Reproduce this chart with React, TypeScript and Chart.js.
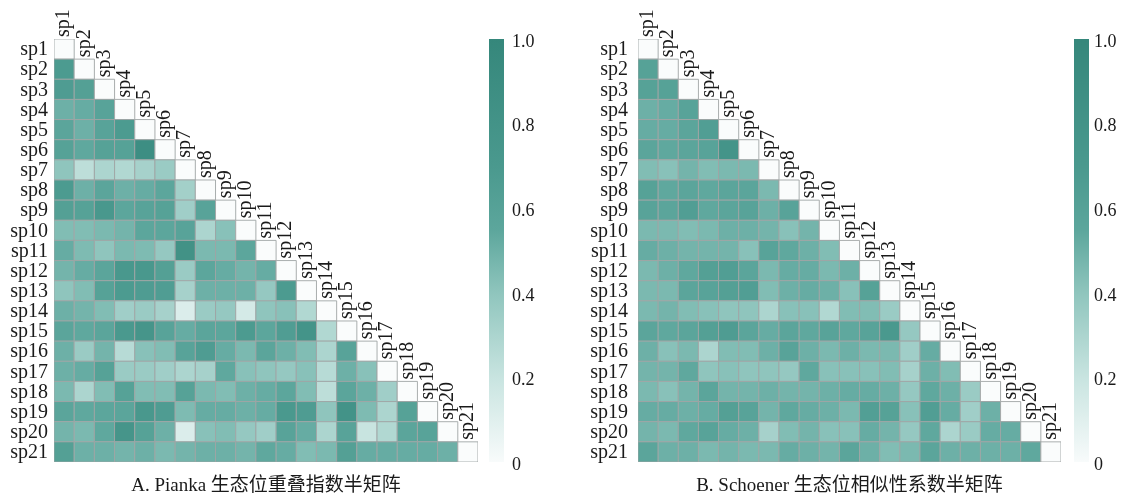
import React, { useEffect, useRef } from 'react';
import { Chart, registerables } from 'chart.js';

Chart.register(...registerables);

const SPECIES = ['sp1', 'sp2', 'sp3', 'sp4', 'sp5', 'sp6', 'sp7', 'sp8', 'sp9', 'sp10', 'sp11', 'sp12', 'sp13', 'sp14', 'sp15', 'sp16', 'sp17', 'sp18', 'sp19', 'sp20', 'sp21'];
const CB_TICKS = [0, 0.2, 0.4, 0.6, 0.8, 1.0];

// Lower-triangular rows, starting with sp2 (values for sp1..sp(i-1))
const PIANKA: number[][] = [
  [0.68],
  [0.66, 0.62],
  [0.50, 0.52, 0.58],
  [0.56, 0.50, 0.58, 0.68],
  [0.60, 0.54, 0.60, 0.60, 0.88],
  [0.40, 0.24, 0.30, 0.28, 0.32, 0.36],
  [0.68, 0.50, 0.56, 0.50, 0.52, 0.55, 0.33],
  [0.62, 0.60, 0.72, 0.55, 0.58, 0.60, 0.34, 0.58],
  [0.44, 0.44, 0.46, 0.48, 0.55, 0.55, 0.58, 0.30, 0.42],
  [0.52, 0.45, 0.40, 0.46, 0.45, 0.38, 0.82, 0.46, 0.46, 0.55],
  [0.48, 0.52, 0.56, 0.72, 0.72, 0.62, 0.36, 0.55, 0.52, 0.48, 0.52],
  [0.40, 0.44, 0.60, 0.68, 0.66, 0.65, 0.32, 0.50, 0.50, 0.50, 0.38, 0.68],
  [0.50, 0.48, 0.44, 0.34, 0.36, 0.32, 0.12, 0.36, 0.38, 0.15, 0.40, 0.42, 0.28],
  [0.56, 0.54, 0.56, 0.70, 0.76, 0.58, 0.52, 0.56, 0.55, 0.68, 0.55, 0.65, 0.78, 0.28],
  [0.50, 0.36, 0.48, 0.26, 0.42, 0.44, 0.58, 0.66, 0.52, 0.46, 0.56, 0.50, 0.44, 0.30, 0.58],
  [0.50, 0.52, 0.60, 0.36, 0.36, 0.34, 0.30, 0.32, 0.54, 0.42, 0.40, 0.38, 0.42, 0.26, 0.50, 0.42],
  [0.46, 0.30, 0.44, 0.60, 0.44, 0.44, 0.60, 0.46, 0.44, 0.50, 0.52, 0.55, 0.44, 0.24, 0.56, 0.50, 0.34],
  [0.56, 0.54, 0.55, 0.56, 0.72, 0.66, 0.45, 0.52, 0.52, 0.50, 0.52, 0.70, 0.66, 0.40, 0.80, 0.45, 0.30, 0.60],
  [0.48, 0.46, 0.54, 0.76, 0.60, 0.50, 0.12, 0.42, 0.44, 0.38, 0.34, 0.58, 0.52, 0.30, 0.58, 0.20, 0.28, 0.56, 0.58],
  [0.62, 0.50, 0.50, 0.48, 0.50, 0.46, 0.48, 0.50, 0.50, 0.48, 0.54, 0.52, 0.44, 0.46, 0.62, 0.52, 0.52, 0.52, 0.52, 0.50],
];

const SCHOENER: number[][] = [
  [0.60],
  [0.60, 0.60],
  [0.50, 0.52, 0.58],
  [0.52, 0.52, 0.56, 0.64],
  [0.56, 0.54, 0.56, 0.58, 0.78],
  [0.44, 0.42, 0.48, 0.44, 0.46, 0.46],
  [0.60, 0.54, 0.56, 0.54, 0.56, 0.56, 0.46],
  [0.58, 0.56, 0.64, 0.54, 0.56, 0.58, 0.50, 0.58],
  [0.46, 0.46, 0.44, 0.46, 0.50, 0.50, 0.48, 0.42, 0.48],
  [0.52, 0.50, 0.48, 0.48, 0.48, 0.42, 0.58, 0.54, 0.50, 0.44],
  [0.46, 0.50, 0.54, 0.62, 0.64, 0.56, 0.46, 0.52, 0.52, 0.46, 0.50],
  [0.46, 0.46, 0.56, 0.58, 0.62, 0.64, 0.44, 0.50, 0.52, 0.50, 0.42, 0.60],
  [0.46, 0.48, 0.44, 0.42, 0.40, 0.40, 0.30, 0.42, 0.42, 0.28, 0.44, 0.44, 0.36],
  [0.56, 0.54, 0.56, 0.62, 0.66, 0.56, 0.52, 0.56, 0.54, 0.58, 0.54, 0.58, 0.70, 0.38],
  [0.50, 0.42, 0.46, 0.30, 0.44, 0.44, 0.50, 0.58, 0.50, 0.46, 0.50, 0.46, 0.46, 0.34, 0.52],
  [0.48, 0.48, 0.54, 0.40, 0.42, 0.40, 0.40, 0.38, 0.54, 0.42, 0.42, 0.42, 0.44, 0.32, 0.50, 0.44],
  [0.46, 0.42, 0.48, 0.56, 0.48, 0.48, 0.50, 0.48, 0.48, 0.50, 0.52, 0.52, 0.50, 0.38, 0.54, 0.50, 0.36],
  [0.52, 0.52, 0.50, 0.52, 0.62, 0.58, 0.48, 0.54, 0.52, 0.50, 0.46, 0.63, 0.60, 0.42, 0.64, 0.52, 0.34, 0.50],
  [0.48, 0.46, 0.54, 0.58, 0.52, 0.50, 0.32, 0.44, 0.48, 0.42, 0.42, 0.52, 0.48, 0.38, 0.54, 0.30, 0.36, 0.52, 0.52],
  [0.56, 0.50, 0.50, 0.46, 0.48, 0.46, 0.46, 0.52, 0.50, 0.48, 0.56, 0.50, 0.44, 0.46, 0.56, 0.50, 0.50, 0.50, 0.50, 0.54],
];

const TITLE_A = 'A. Pianka 生态位重叠指数半矩阵';
const TITLE_B = 'B. Schoener 生态位相似性系数半矩阵';

// colormap stops (value, rgb)
const CMAP: [number, [number, number, number]][] = [
  [0.0, [248, 251, 251]],
  [0.2, [200, 228, 224]],
  [0.4, [143, 197, 189]],
  [0.55, [92, 166, 156]],
  [0.7, [74, 153, 142]],
  [1.0, [53, 135, 123]],
];

function cmap(v: number | null): string {
  if (v === null) return 'rgb(250,252,252)';
  const t = Math.max(0, Math.min(1, v));
  for (let i = 0; i < CMAP.length - 1; i++) {
    const [a, ca] = CMAP[i];
    const [b, cb] = CMAP[i + 1];
    if (t <= b) {
      const f = (t - a) / (b - a);
      const c = ca.map((x, k) => Math.round(x + (cb[k] - x) * f));
      return `rgb(${c[0]},${c[1]},${c[2]})`;
    }
  }
  const c = CMAP[CMAP.length - 1][1];
  return `rgb(${c[0]},${c[1]},${c[2]})`;
}

const SERIF = '"Liberation Serif", "Times New Roman", "Noto Sans CJK SC", serif';

type Layout = { yWidth: number; yPad: number; cbWidth: number; cbBarOffset: number; cbPad: number };

function buildConfig(rows: number[][], title: string, lay: Layout): any {
  const points: { x: number; y: number; v: number | null }[] = [];
  for (let i = 0; i < SPECIES.length; i++) {
    for (let j = 0; j <= i; j++) {
      points.push({ x: j + 1, y: i + 1, v: i === j ? null : rows[i - 1][j] });
    }
  }
  const radius = (ctx: any) => {
    const s = ctx.chart.scales.x;
    if (!s) return 14;
    const side = Math.abs(s.getPixelForValue(2) - s.getPixelForValue(1));
    return isFinite(side) && side > 0 ? side / Math.SQRT2 : 14;
  };
  const noPad = (s: any, w: number) => {
    s.width = w;
    s.paddingTop = 0;
    s.paddingBottom = 0;
  };
  const decor = {
    id: 'decor',
    afterDatasetsDraw(chart: any) {
      const { ctx, scales } = chart;
      const x = scales.x, y = scales.y, cb = scales.cb;
      // colorbar
      const top = cb.getPixelForValue(1);
      const bottom = cb.getPixelForValue(0);
      const grad = ctx.createLinearGradient(0, bottom, 0, top);
      CMAP.forEach(([v]) => grad.addColorStop(v, cmap(v)));
      ctx.save();
      ctx.fillStyle = grad;
      ctx.fillRect(cb.left + lay.cbBarOffset, top, 15, bottom - top);
      // column labels
      ctx.fillStyle = '#1a1a1a';
      ctx.font = `20px ${SERIF}`;
      ctx.textAlign = 'left';
      ctx.textBaseline = 'middle';
      SPECIES.forEach((lab, j) => {
        const cx = x.getPixelForValue(j + 1);
        const ty = y.getPixelForValue(j + 0.5);
        ctx.save();
        ctx.translate(cx, ty - 2);
        ctx.rotate(-Math.PI / 2);
        ctx.fillText(lab, 0, 0);
        ctx.restore();
      });
      // title
      ctx.font = `19px ${SERIF}`;
      ctx.textAlign = 'center';
      ctx.textBaseline = 'middle';
      ctx.fillText(title, (chart.chartArea.left + chart.chartArea.right) / 2, 486);
      ctx.restore();
    },
  };
  return {
    type: 'scatter',
    data: {
      datasets: [
        {
          data: points,
          pointStyle: 'rect',
          pointRadius: radius,
          pointHoverRadius: radius,
          pointBackgroundColor: (ctx: any) => cmap(ctx.raw ? ctx.raw.v : null),
          pointHoverBackgroundColor: (ctx: any) => cmap(ctx.raw ? ctx.raw.v : null),
          pointBorderColor: 'rgba(160,165,165,0.9)',
          pointHoverBorderColor: 'rgba(160,165,165,0.9)',
          pointBorderWidth: 1,
          pointHoverBorderWidth: 1,
        },
      ],
    },
    options: {
      responsive: false,
      animation: false,
      events: [],
      layout: { autoPadding: false, padding: { top: 39, bottom: 34, left: 0, right: 0 } },
      plugins: { legend: { display: false }, tooltip: { enabled: false }, title: { display: false } },
      scales: {
        x: { type: 'linear', min: 0.5, max: 21.5, display: false },
        y: {
          type: 'linear',
          min: 0.5,
          max: 21.5,
          reverse: true,
          position: 'left',
          afterBuildTicks: (s: any) => {
            s.ticks = SPECIES.map((_, i) => ({ value: i + 1 }));
          },
          afterFit: (s: any) => noPad(s, lay.yWidth),
          ticks: {
            callback: (v: number) => SPECIES[Math.round(v) - 1],
            font: { family: SERIF, size: 20 },
            color: '#1a1a1a',
            padding: lay.yPad,
            labelOffset: 1,
            autoSkip: false,
          },
          grid: { display: false, drawTicks: false },
          border: { display: false },
        },
        cb: {
          type: 'linear',
          min: 0,
          max: 1,
          position: 'right',
          afterBuildTicks: (s: any) => {
            s.ticks = CB_TICKS.map((v) => ({ value: v }));
          },
          afterFit: (s: any) => noPad(s, lay.cbWidth),
          ticks: {
            callback: (v: number) => (v === 0 ? '0' : v.toFixed(1)),
            font: { family: SERIF, size: 18 },
            color: '#1a1a1a',
            padding: lay.cbPad,
            labelOffset: 3,
            autoSkip: false,
          },
          grid: { display: false, drawTicks: false },
          border: { display: false },
        },
      },
    },
    plugins: [decor],
  };
}

export default function App() {
  const refA = useRef<HTMLCanvasElement>(null);
  const refB = useRef<HTMLCanvasElement>(null);
  useEffect(() => {
    const a = new Chart(refA.current!, buildConfig(PIANKA, TITLE_A, { yWidth: 54, yPad: 6, cbWidth: 83, cbBarOffset: 11, cbPad: 34 }));
    const b = new Chart(refB.current!, buildConfig(SCHOENER, TITLE_B, { yWidth: 77, yPad: 10, cbWidth: 62, cbBarOffset: 13, cbPad: 33 }));
    return () => {
      a.destroy();
      b.destroy();
    };
  }, []);
  return (
    <div style={{ position: 'fixed', left: 0, top: 0, width: 1123, height: 496, background: '#ffffff' }}>
      <canvas ref={refA} width={561} height={496} style={{ position: 'absolute', left: 0, top: 0 }} />
      <canvas ref={refB} width={562} height={496} style={{ position: 'absolute', left: 561, top: 0 }} />
    </div>
  );
}
